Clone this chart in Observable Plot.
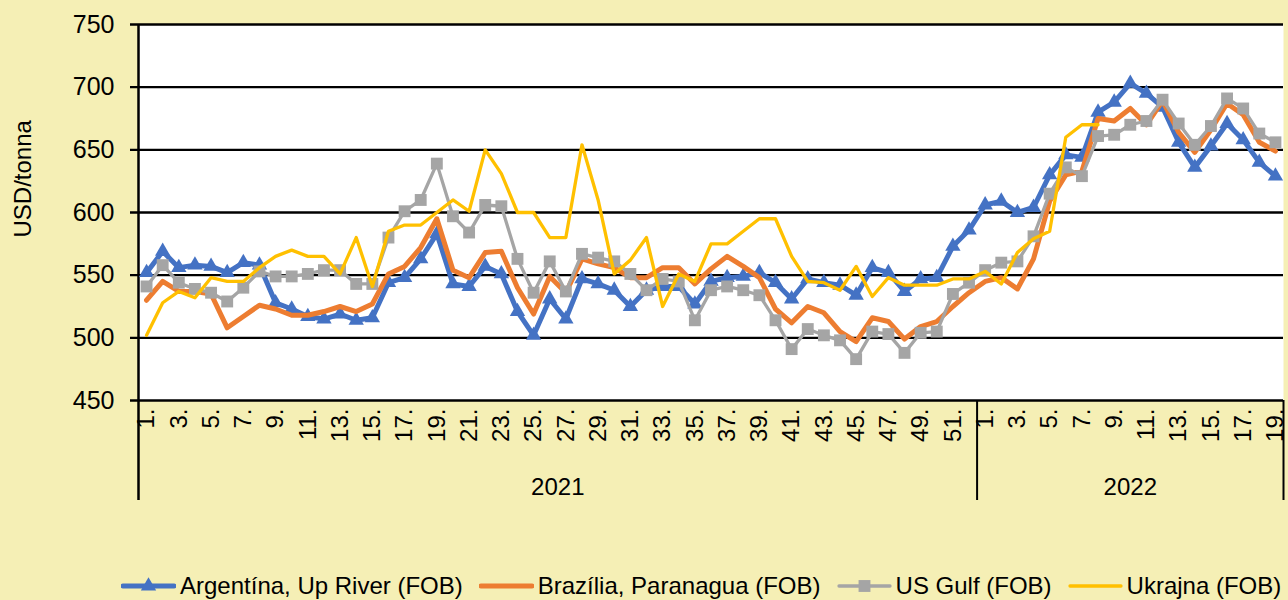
<!DOCTYPE html>
<html><head><meta charset="utf-8">
<script src="https://cdn.jsdelivr.net/npm/d3@7"></script>
<script src="https://cdn.jsdelivr.net/npm/@observablehq/plot@0.6"></script>
<style>
body{margin:0;background:#F5EFB5;width:1288px;height:600px;overflow:hidden;font-family:"Liberation Sans",Arial,sans-serif;position:relative;}
#chart{position:absolute;left:0;top:0;}
#legend{position:absolute;left:121px;top:572px;height:28px;display:flex;align-items:center;font-size:24px;color:#000;white-space:nowrap;}
#legend .item{display:flex;align-items:center;margin-right:16px;}
#legend .item:last-child{margin-right:0;}
#legend svg{margin-right:4px;}
</style></head><body>
<div id="chart"></div><div id="legend"></div>
<script>
// Categories
const years = ["2021", "2022"];
const weeksPerYear = [52, 19];
const tickLabels2021 = ["1.","3.","5.","7.","9.","11.","13.","15.","17.","19.","21.","23.","25.","27.","29.","31.","33.","35.","37.","39.","41.","43.","45.","47.","49.","51."];
const tickLabels2022 = ["1.","3.","5.","7.","9.","11.","13.","15.","17.","19."];
const yTicks = [450, 500, 550, 600, 650, 700, 750];

// Series (USD/tonna), 2021 w1..w52 then 2022 w1..w19
const argentina = [552,569,556,558,557,552,560,558,528,523,517,515,519,514,516,544,548,563,583,543,541,557,551,521,502,531,515,547,543,538,525,538,541,541,527,545,548,549,552,544,531,547,544,542,534,556,552,537,547,548,573,586,
  606,609,600,604,630,646,644,680,688,703,695,684,656,636,653,671,658,640,629];
const brazil = [530,545,537,537,535,508,517,526,523,518,518,521,525,521,527,551,557,572,595,554,548,568,569,540,519,549,536,563,559,556,548,548,556,556,543,555,565,557,548,523,512,525,520,505,497,516,513,499,509,513,525,536,
  545,548,539,563,609,630,633,675,673,683,670,689,664,648,666,687,678,656,649];
const usGulf = [541,558,544,539,536,529,540,553,549,549,551,554,554,543,543,580,601,610,639,597,584,606,605,563,536,561,537,567,564,561,551,538,547,545,514,538,541,538,534,514,491,507,502,498,483,505,503,488,504,505,535,544,
  554,560,561,581,615,636,629,661,662,670,673,690,671,654,669,691,683,663,656];
const ukraine = [502,528,537,532,548,545,545,556,565,570,565,565,551,580,541,585,590,590,600,610,601,650,631,600,600,580,580,654,610,551,562,580,525,551,545,575,575,585,595,595,565,545,544,538,557,533,548,542,542,542,547,547,
  553,543,568,579,585,660,670,670,null,null,null,null,null,null,null,null,null,null,null];

const seriesNames = ["Argentína, Up River (FOB)", "Brazília, Paranagua (FOB)", "US Gulf (FOB)", "Ukrajna (FOB)"];
const seriesValues = [argentina, brazil, usGulf, ukraine];
const seriesColors = ["#4472C4", "#ED7D31", "#A5A5A5", "#FFC000"];
const seriesWidths = [5, 5, 3.3, 3.3];
const seriesSymbols = ["triangle", null, "square", null];
const symbolR = {triangle: 5.7, square: 6.7};

// Build category index
const cats = [];
years.forEach((yr, k) => { for (let w = 1; w <= weeksPerYear[k]; w++) cats.push({yr, w, i: cats.length}); });
const n = cats.length;
const sepIdx = [weeksPerYear[0] - 0.5, n - 0.5];

const tickData = [];
[tickLabels2021, tickLabels2022].forEach((labels, k) => {
  labels.forEach(lab => {
    const w = parseInt(lab);
    const c = cats.find(c => c.yr === years[k] && c.w === w);
    tickData.push({i: c.i, label: lab});
  });
});
const yearData = years.map((yr, k) => {
  const idx = cats.filter(c => c.yr === yr).map(c => c.i);
  return {x: (d3.min(idx) + d3.max(idx)) / 2, label: yr};
});

const rows = seriesNames.map((name, s) => seriesValues[s].map((v, i) => ({i, v, name})));

const marks = [
  Plot.frame({fill: "white", stroke: "none"}),
  Plot.ruleY(yTicks, {x1: -0.5, x2: n - 0.5, insetLeft: -8, stroke: "black", strokeWidth: 2.3}),
  Plot.ruleX([-0.5], {y1: 750, y2: 450, insetBottom: -100, stroke: "black", strokeWidth: 2.5}),
  Plot.ruleX(sepIdx, {y1: 450, y2: 450, insetBottom: -100, stroke: "black", strokeWidth: 2}),
  Plot.text(yTicks, {x: -0.5, y: d => d, text: d => String(d), textAnchor: "end", dx: -24, fontSize: 25, fill: "black"}),
  Plot.text(tickData, {x: "i", y: 450, text: "label", rotate: -90, textAnchor: "end", dy: 8, fontSize: 24, fill: "black"}),
  Plot.text(yearData, {x: "x", y: 450, text: "label", dy: 87, fontSize: 24, fill: "black"}),
  Plot.text(["USD/tonna"], {frameAnchor: "left", dx: -115, dy: 25, rotate: -90, fontSize: 24, fill: "black"})
];
rows.forEach((r, s) => {
  marks.push(Plot.line(r, {x: "i", y: "v", stroke: seriesColors[s], strokeWidth: seriesWidths[s], strokeLinejoin: "round", strokeLinecap: "round"}));
  if (seriesSymbols[s]) marks.push(Plot.dot(r.filter(d => d.v != null), {x: "i", y: "v", symbol: seriesSymbols[s], r: symbolR[seriesSymbols[s]], fill: seriesColors[s], stroke: "none"}));
});

const chart = Plot.plot({
  width: 1288, height: 545,
  marginLeft: 138, marginRight: 5, marginTop: 24, marginBottom: 145,
  x: {type: "linear", domain: [-0.5, n - 0.5], axis: null},
  y: {domain: [450, 750], axis: null},
  style: {background: "transparent", fontFamily: "'Liberation Sans', Arial, sans-serif", overflow: "visible"},
  marks
});
document.getElementById("chart").appendChild(chart);

// Legend
const leg = document.getElementById("legend");
seriesNames.forEach((name, s) => {
  const item = document.createElement("div");
  item.className = "item";
  const sym = seriesSymbols[s];
  let mk = "";
  if (sym === "triangle") mk = `<path d="${d3.symbol(d3.symbolTriangle, Math.PI * symbolR.triangle ** 2)()}" transform="translate(27.5,10)" fill="${seriesColors[s]}"/>`;
  if (sym === "square") mk = `<path d="${d3.symbol(d3.symbolSquare, Math.PI * symbolR.square ** 2)()}" transform="translate(27.5,10)" fill="${seriesColors[s]}"/>`;
  item.innerHTML = `<svg width="55" height="20"><line x1="2" x2="53" y1="10" y2="10" stroke="${seriesColors[s]}" stroke-width="${seriesWidths[s]}" stroke-linecap="round"/>${mk}</svg><span>${name}</span>`;
  leg.appendChild(item);
});
</script>
</body></html>
